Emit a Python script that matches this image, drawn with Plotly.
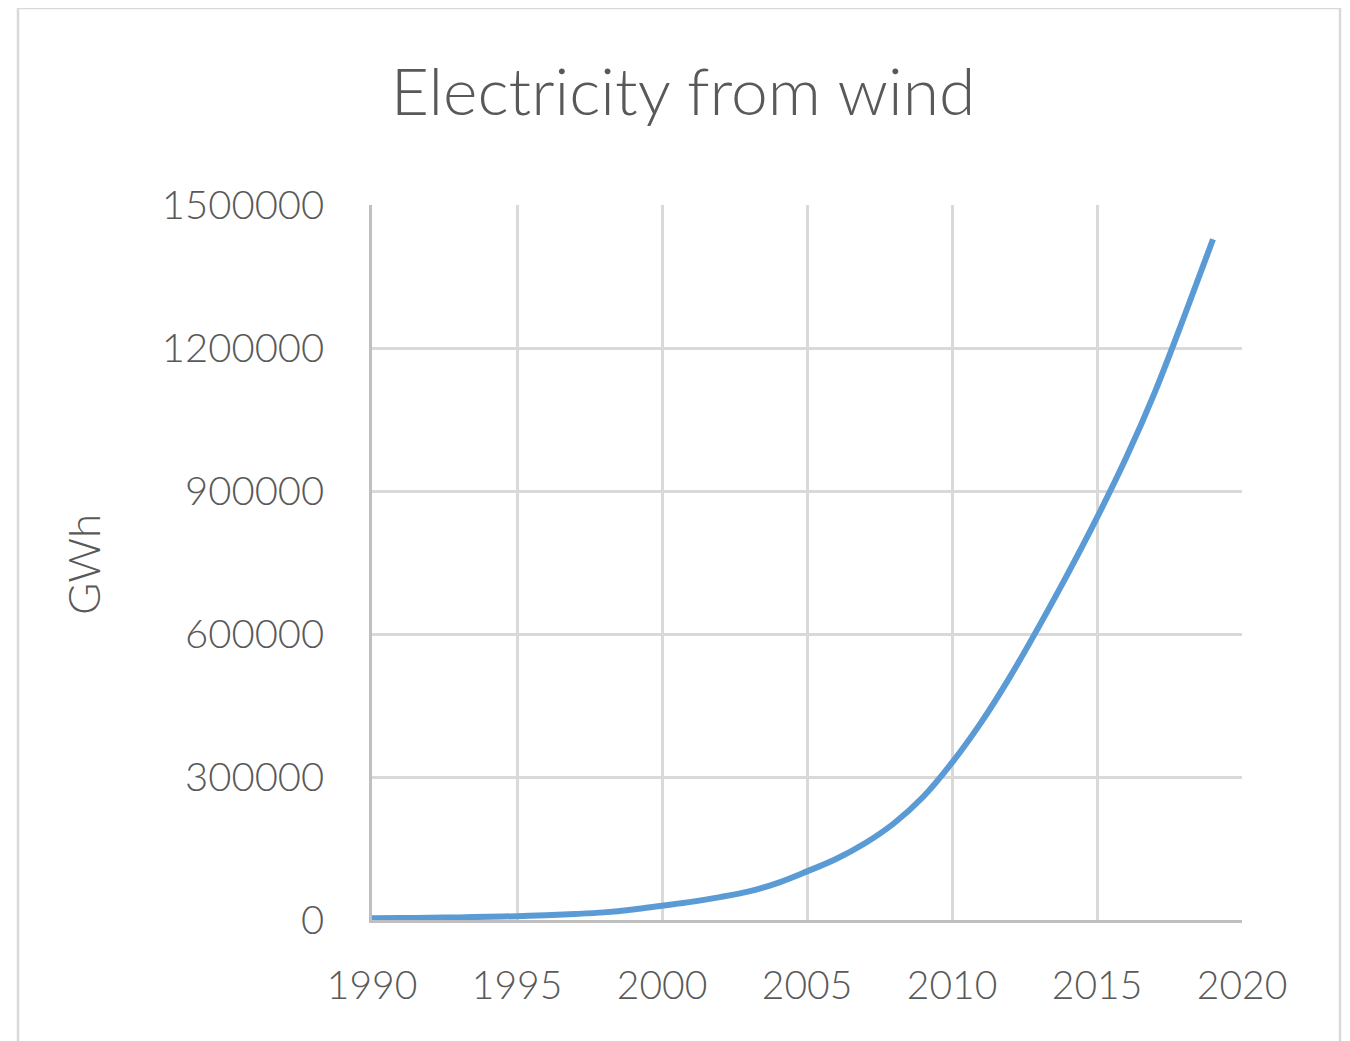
import plotly.graph_objects as go

years = list(range(1990, 2020))
gwh = [3500, 4000, 4700, 5500, 6800, 8000, 10000, 12500, 16000, 22000,
       30000, 38000, 48000, 60000, 78000, 102000, 128000, 161000, 203000, 258000,
       330000, 414000, 510000, 616000, 727000, 844000, 969000, 1108000, 1265000, 1428000]

x_ticks = [1990, 1995, 2000, 2005, 2010, 2015, 2020]
y_ticks = [0, 300000, 600000, 900000, 1200000, 1500000]

FONT = "Lato"
GREY = "#595959"

# page body has an 8px margin; compensate so the plot lands where the reference has it
L, T = 364, 197
PW, PH = 870, 715
X0, Y0 = 372, 920  # reference pixel position of plot origin

fig = go.Figure()
fig.add_trace(go.Scatter(x=years, y=gwh, mode="lines",
                         line=dict(color="#5B9BD5", width=6, shape="spline"),
                         showlegend=False))

fig.update_layout(
    width=1350, height=1041,
    margin=dict(l=L, r=1350 - L - PW, t=T, b=1041 - T - PH),
    paper_bgcolor="white", plot_bgcolor="white",
    title=dict(text="Electricity from wind", x=0.5, xref="container", xanchor="center",
               y=1 - 84 / 1041, yref="container", yanchor="middle",
               font=dict(family=FONT, size=66, color=GREY, weight=300)),
    font=dict(family=FONT, color=GREY),
)
fig.update_xaxes(range=[1990, 2020], tickvals=x_ticks, showgrid=True,
                 gridcolor="#D9D9D9", gridwidth=2.5, showline=True, linecolor="#BFBFBF",
                 linewidth=2.5, zeroline=False, ticks="", ticklabelstandoff=29,
                 tickfont=dict(family=FONT, size=39, color=GREY, weight=300))
fig.update_yaxes(range=[0, 1500000], tickvals=y_ticks, showgrid=True,
                 gridcolor="#D9D9D9", gridwidth=2.5, showline=True, linecolor="#BFBFBF",
                 linewidth=2.5, zeroline=False, ticks="", ticklabelstandoff=37,
                 tickformat="d",
                 tickfont=dict(family=FONT, size=40, color=GREY, weight=300))

fig.add_annotation(text="GWh", xref="paper", yref="paper",
                   x=(83 - X0) / PW, y=(Y0 - 565) / PH, xanchor="center", yanchor="middle",
                   textangle=-90, showarrow=False,
                   font=dict(family=FONT, size=44, color=GREY, weight=300))

fig.add_shape(type="rect", xref="paper", yref="paper",
              x0=(18 - X0) / PW, x1=(1340 - X0) / PW,
              y0=(Y0 - 1070) / PH, y1=(Y0 - 8) / PH,
              line=dict(color="#D9D9D9", width=2.5), layer="below")

fig.write_html("out.html")
